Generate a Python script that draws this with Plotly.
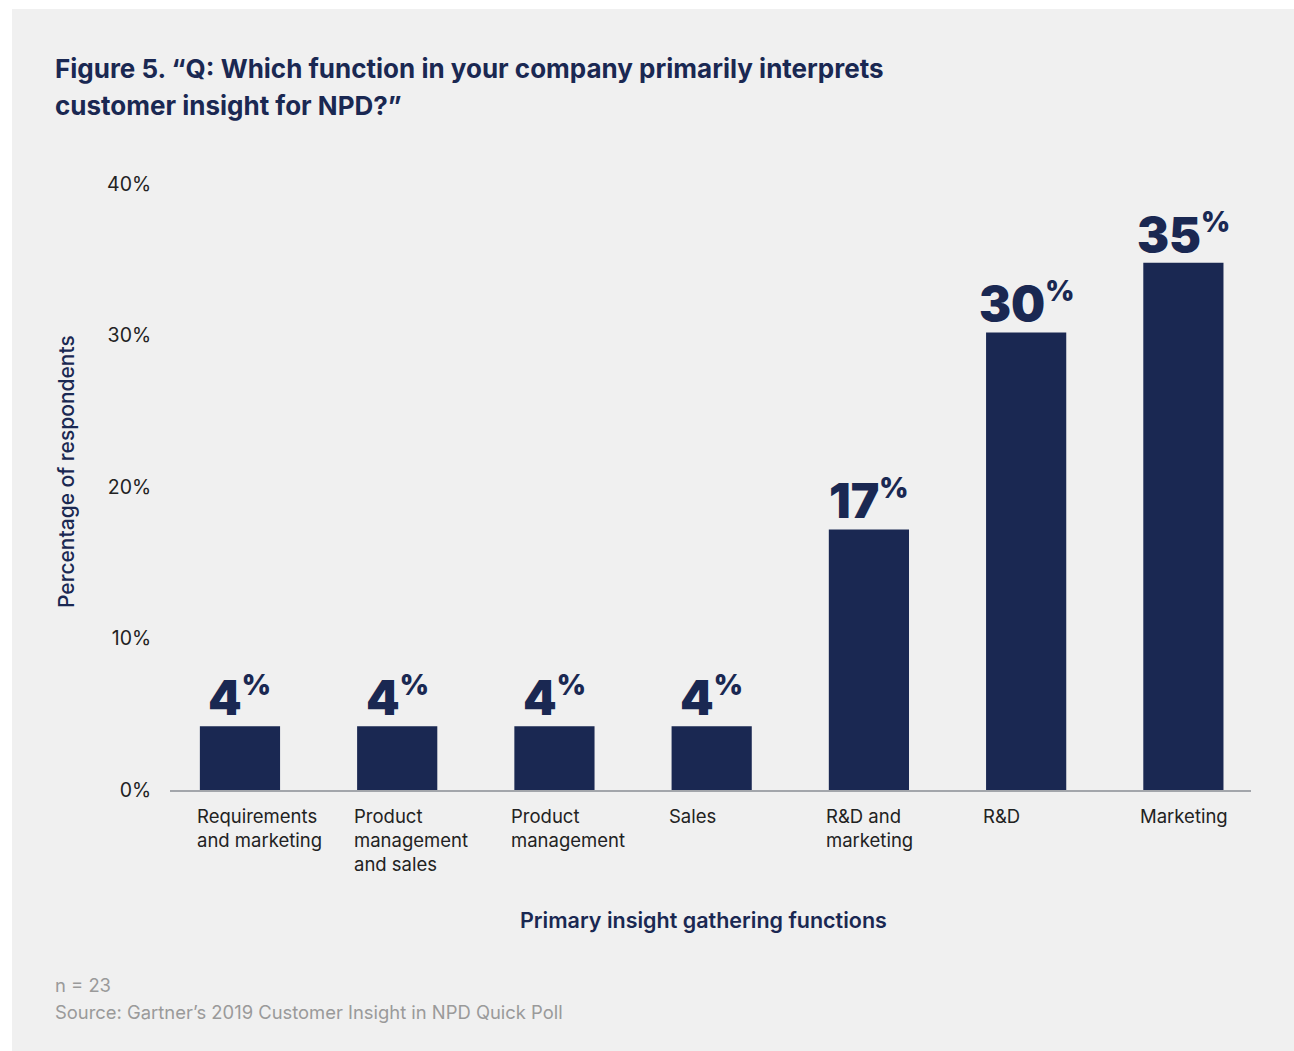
import plotly.graph_objects as go

categories = ["Requirements<br>and marketing", "Product<br>management<br>and sales",
              "Product<br>management", "Sales", "R&D and<br>marketing", "R&D", "Marketing"]
values = [4.2, 4.2, 4.2, 4.2, 17.2, 30.2, 34.8]
value_labels = ["4", "4", "4", "4", "17", "30", "35"]
y_ticks = [0, 10, 20, 30, 40]
y_tick_text = ["0%", "10%", "20%", "30%", "40%"]

NAVY = "#1a2852"
BG = "#f0f0f0"
FONT = "Inter"

W, H = 1294, 1051
L, R, T, B = 170, 1251, 184, 790

fig = go.Figure()
x_idx = list(range(len(categories)))
fig.add_trace(go.Bar(x=x_idx, y=values, marker=dict(color=NAVY, line=dict(width=0)),
                     width=0.51, hoverinfo="skip"))

def px_x(p):
    return (p - L) / (R - L)

def px_y(p):
    return (B - p) / (B - T)

annotations = []
for i, (v, lab) in enumerate(zip(values, value_labels)):
    annotations.append(dict(x=i, y=v, xref="x", yref="y",
                            text=f"{lab}<sup><span style='font-size:28px'>%</span></sup>",
                            showarrow=False, xanchor="center", yanchor="bottom", yshift=-3,
                            font=dict(family=FONT, size=48, color=NAVY, weight=900)))
for i, c in enumerate(categories):
    annotations.append(dict(x=i, y=px_y(803), xref="x", yref="paper", text=c,
                            showarrow=False, xanchor="left", yanchor="top", align="left",
                            xshift=-45,
                            font=dict(family=FONT, size=18.5, color="#222222")))

annotations += [
    dict(x=px_x(53), y=px_y(69), xref="paper", yref="paper", xanchor="left", yanchor="middle",
         align="left", showarrow=False,
         text="Figure 5. “Q: Which function in your company primarily interprets",
         font=dict(family=FONT, size=26, color=NAVY, weight=700)),
    dict(x=px_x(53), y=px_y(105), xref="paper", yref="paper", xanchor="left", yanchor="middle",
         align="left", showarrow=False,
         text="customer insight for NPD?”",
         font=dict(family=FONT, size=26, color=NAVY, weight=700)),
    dict(x=px_x(66), y=px_y(472), xref="paper", yref="paper", xanchor="center", yanchor="middle",
         textangle=-90, showarrow=False, text="Percentage of respondents",
         font=dict(family=FONT, size=21, color=NAVY, weight=500)),
    dict(x=px_x(703), y=px_y(920), xref="paper", yref="paper", xanchor="center", yanchor="middle",
         showarrow=False, text="Primary insight gathering functions",
         font=dict(family=FONT, size=21.5, color=NAVY, weight=600)),
    dict(x=px_x(53), y=px_y(985), xref="paper", yref="paper", xanchor="left", yanchor="middle",
         showarrow=False, text="n = 23",
         font=dict(family=FONT, size=18.4, color="#9a9a9a")),
    dict(x=px_x(53), y=px_y(1012), xref="paper", yref="paper", xanchor="left", yanchor="middle",
         showarrow=False, text="Source: Gartner’s 2019 Customer Insight in NPD Quick Poll",
         font=dict(family=FONT, size=18.4, color="#9a9a9a")),
]

shapes = [
    dict(type="rect", xref="paper", yref="paper", x0=px_x(12), x1=px_x(W + 5),
         y0=px_y(H + 5), y1=px_y(9), fillcolor=BG, line=dict(width=0), layer="below"),
]

fig.update_layout(
    width=W, height=H,
    margin=dict(l=L, r=W - R, t=T, b=H - B, pad=0),
    paper_bgcolor="white", plot_bgcolor=BG,
    showlegend=False,
    annotations=annotations, shapes=shapes,
    xaxis=dict(range=[-0.445, 6.43], showticklabels=False, showgrid=False, zeroline=False,
               showline=True, linecolor="#a3a6ab", linewidth=2, ticks="", fixedrange=True),
    yaxis=dict(range=[0, 40], tickvals=y_ticks, ticktext=y_tick_text, showgrid=False,
               zeroline=False, showline=False, ticks="outside", ticklen=14,
               tickcolor="rgba(0,0,0,0)",
               tickfont=dict(family=FONT, size=19.5, color="#222222")),
)

fig.write_html("out.html")
